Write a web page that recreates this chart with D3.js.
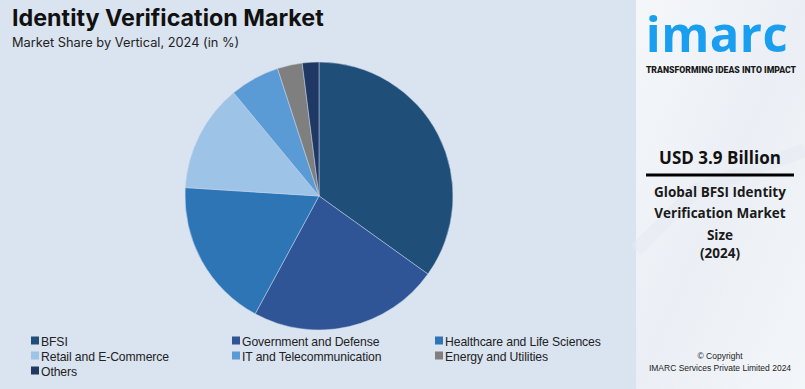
<!DOCTYPE html>
<html><head><meta charset="utf-8">
<script src="https://cdn.jsdelivr.net/npm/d3@7"></script>
<style>
html,body{margin:0;padding:0;background:#dae3f0;}
svg{display:block;}
</style></head>
<body><svg id="c" width="805" height="389"></svg>
<script>
const categories = ["BFSI","Government and Defense","Healthcare and Life Sciences","Retail and E-Commerce","IT and Telecommunication","Energy and Utilities","Others"];
const shares = [34.9, 23.0, 18.1, 13.0, 6.0, 3.0, 2.0];
const colors = ["#1f4e79","#2f5597","#2e75b6","#9dc3e6","#5b9bd5","#7f7f7f","#203864"];
const title = "Identity Verification Market";
const subtitle = "Market Share by Vertical, 2024 (in %)";
const panelValue = "USD 3.9 Billion";
const panelLines = ["Global BFSI Identity","Verification Market","Size","(2024)"];

const svg = d3.select("#c");
const W = 805, H = 389;

svg.append("rect").attr("width",W).attr("height",H).attr("fill","#dae3f0");

svg.append("text").attr("x",12).attr("y",26).text(title)
  .attr("font-family","Inter, 'Open Sans', sans-serif").attr("font-weight",700)
  .attr("font-size",23.3).attr("fill","#111");
svg.append("text").attr("x",12).attr("y",47).text(subtitle)
  .attr("font-family","Inter, 'Open Sans', sans-serif")
  .attr("font-size",12.8).attr("fill","#222");

const cx = 319, cy = 196, r = 134;
const pie = d3.pie().sort(null).value(d=>d.v);
const arc = d3.arc().innerRadius(0).outerRadius(r);
const data = categories.map((c,i)=>({c, v: shares[i], col: colors[i]}));
svg.append("g").attr("transform",`translate(${cx},${cy})`)
  .selectAll("path").data(pie(data)).join("path")
  .attr("d",arc).attr("fill",d=>d.data.col)
  .attr("stroke","#c9d6ea").attr("stroke-width",0.5);

const colX = [31, 232, 435];
const rowY = [341, 356, 371];
const lg = svg.append("g");
data.forEach((d,i)=>{
  const col = i%3, row = Math.floor(i/3);
  const g = lg.append("g").attr("transform",`translate(${colX[col]},${rowY[row]})`);
  g.append("rect").attr("x",0).attr("y",-4.5).attr("width",8).attr("height",8).attr("fill",d.col);
  g.append("text").attr("x",10).attr("y",4.5).text(d.c)
    .attr("font-family","'Liberation Sans',Arial,sans-serif")
    .attr("font-size",12.2).attr("letter-spacing",-0.1).attr("fill","#222");
});

const defs = svg.append("defs");
const grad = defs.append("linearGradient").attr("id","pg").attr("x1","0").attr("y1","0").attr("x2","1").attr("y2","1");
grad.append("stop").attr("offset","0").attr("stop-color","#f5f7fa");
grad.append("stop").attr("offset","0.5").attr("stop-color","#ebeff5");
grad.append("stop").attr("offset","1").attr("stop-color","#f3f6f9");
const px = 636;
svg.append("rect").attr("x",px).attr("y",0).attr("width",W-px).attr("height",H).attr("fill","url(#pg)");
svg.append("path").attr("d",`M${px},250 L${px+60},190 L${W},150`).attr("stroke","#e6ebf1").attr("stroke-width",14).attr("fill","none").attr("opacity",0.6);

svg.append("text").attr("x",717).attr("y",52).attr("text-anchor","middle").text("imarc")
  .attr("font-family","'Open Sans', Lato, sans-serif").attr("font-weight",700)
  .attr("font-size",49).attr("letter-spacing",0.5).attr("fill","#1a9ff0");
svg.append("text").attr("x",721).attr("y",73).attr("text-anchor","middle").text("TRANSFORMING IDEAS INTO IMPACT")
  .attr("font-family","Roboto, 'Open Sans', sans-serif").attr("font-weight",900)
  .attr("font-size",8.7).attr("fill","#1a1a1a");

svg.append("text").attr("x",720).attr("y",164).attr("text-anchor","middle").text(panelValue)
  .attr("font-family","'Open Sans', sans-serif").attr("font-weight",700)
  .attr("font-size",17).attr("fill","#111");
svg.append("line").attr("x1",646).attr("x2",794).attr("y1",175).attr("y2",175).attr("stroke","#000").attr("stroke-width",3);
const ly = [197, 218, 240, 258];
panelLines.forEach((t,i)=>{
  svg.append("text").attr("x",720).attr("y",ly[i]).attr("text-anchor","middle").text(t)
    .attr("font-family","'Open Sans', sans-serif").attr("font-weight",700)
    .attr("font-size",13.5).attr("fill","#1a1a1a");
});
svg.append("text").attr("x",720).attr("y",359).attr("text-anchor","middle").text("© Copyright")
  .attr("font-family","'Liberation Sans', sans-serif").attr("font-size",8.5).attr("fill","#222");
svg.append("text").attr("x",720).attr("y",371).attr("text-anchor","middle").text("IMARC Services Private Limited 2024")
  .attr("font-family","'Liberation Sans', sans-serif").attr("font-size",8.5).attr("fill","#222");
</script></body></html>
